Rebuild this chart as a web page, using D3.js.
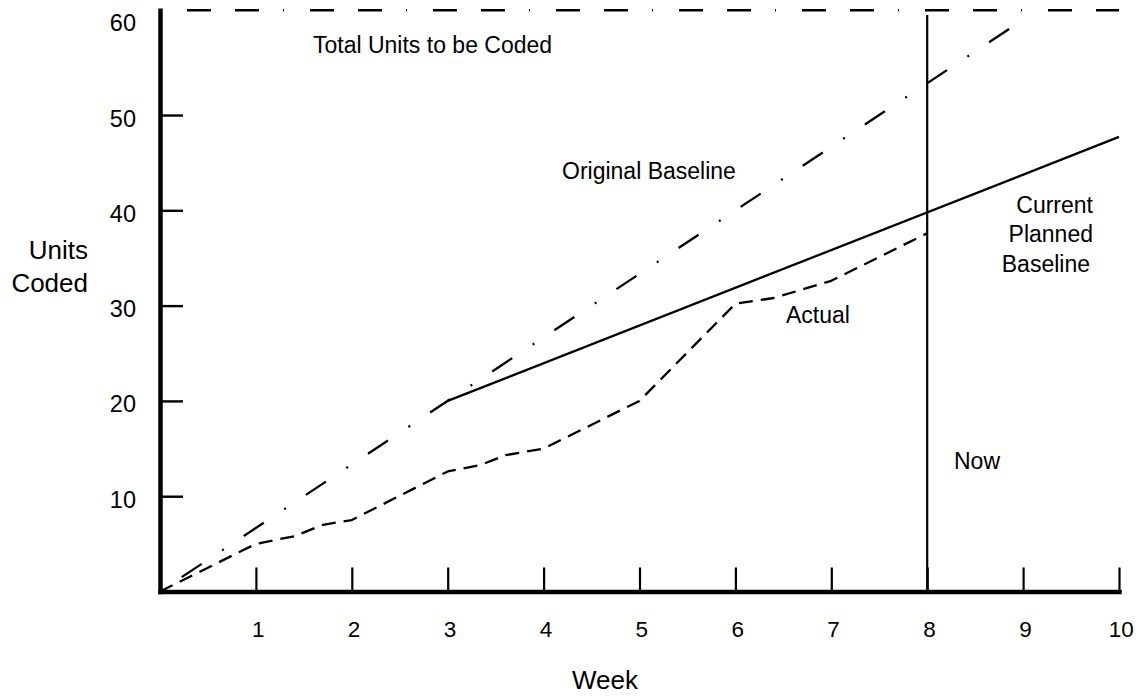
<!DOCTYPE html>
<html>
<head>
<meta charset="utf-8">
<script src="https://cdn.jsdelivr.net/npm/d3@7"></script>
<style>
  html, body { margin: 0; padding: 0; background: #fff; }
  svg { display: block; font-family: "Liberation Sans", Arial, Helvetica, sans-serif; }
</style>
</head>
<body>
<svg id="chart" width="1144" height="696"></svg>
<script>
// ---- data ----
const weekTicks = [1, 2, 3, 4, 5, 6, 7, 8, 9, 10];
const unitTicks = [10, 20, 30, 40, 50, 60];
const totalUnits = 60;
const nowWeek = 8;
const originalWeeks = [0, 9];
const originalUnits = [0, 60];
const plannedWeeks = [3, 10];
const plannedUnits = [20, 47.7];
const actualWeeks = [0, 1, 1.4, 1.7, 2, 3, 3.35, 3.6, 4, 5, 6, 6.4, 7, 8];
const actualUnits = [0, 5, 5.8, 7, 7.5, 12.6, 13.3, 14.3, 15, 20, 30.2, 30.8, 32.6, 37.6];

// ---- layout ----
const svg = d3.select("#chart");
const x = d3.scaleLinear().domain([0, 10]).range([160, 1119]);
const y = d3.scaleLinear().domain([0, 61]).range([591.5, 10.2]);
const ink = "#000";

// x axis
const gx = svg.append("g").attr("transform", `translate(0,${y(0)})`)
  .call(d3.axisBottom(x).tickValues(weekTicks).tickSizeInner(-24).tickSizeOuter(0).tickPadding(29.5));
gx.select(".domain").attr("stroke", ink).attr("stroke-width", 4.5).attr("stroke-linecap", "square");
gx.selectAll(".tick line").attr("stroke", ink).attr("stroke-width", 2.2);
gx.selectAll(".tick text").attr("font-size", 22.5).attr("fill", ink)
  .attr("font-family", "Liberation Sans, Arial, sans-serif").attr("dx", "0.08em");

// y axis
const gy = svg.append("g").attr("transform", `translate(${x(0)},0)`)
  .call(d3.axisLeft(y).tickValues(unitTicks).tickSizeInner(-23).tickSizeOuter(0).tickPadding(24));
gy.select(".domain").attr("stroke", ink).attr("stroke-width", 4.5).attr("stroke-linecap", "square");
gy.selectAll(".tick line").attr("stroke", ink).attr("stroke-width", 2.4);
gy.selectAll(".tick").filter(d => d === totalUnits).select("line").remove();
gy.selectAll(".tick text").attr("font-size", 23.5).attr("fill", ink)
  .attr("font-family", "Liberation Sans, Arial, sans-serif").attr("dy", "0.47em");

// Total units line (top of the plot)
const topY = y(y.domain()[1]);
svg.append("line")
  .attr("x1", x(0)).attr("x2", x(10))
  .attr("y1", topY).attr("y2", topY)
  .attr("stroke", ink).attr("stroke-width", 2.6)
  .attr("stroke-dasharray", "1,26,24,24,24,24");

// Now line
svg.append("line")
  .attr("x1", x(nowWeek)).attr("x2", x(nowWeek))
  .attr("y1", y(60.5)).attr("y2", y(0))
  .attr("stroke", ink).attr("stroke-width", 2.2);

const line = d3.line().x(d => x(d[0])).y(d => y(d[1]));

// Original baseline
svg.append("path")
  .attr("d", line(d3.zip(originalWeeks, originalUnits)))
  .attr("fill", "none").attr("stroke", ink).attr("stroke-width", 2.3)
  .attr("stroke-dasharray", "2,24,24,24.5");

// Current planned baseline
svg.append("path")
  .attr("d", line(d3.zip(plannedWeeks, plannedUnits)))
  .attr("fill", "none").attr("stroke", ink).attr("stroke-width", 2.3);

// Actual
svg.append("path")
  .attr("d", line(d3.zip(actualWeeks, actualUnits)))
  .attr("fill", "none").attr("stroke", ink).attr("stroke-width", 2.3)
  .attr("stroke-linejoin", "round")
  .attr("stroke-dasharray", "14,8");

// ---- text ----
function txt(str, px, py, size, anchor) {
  svg.append("text").attr("x", px).attr("y", py)
    .attr("font-size", size).attr("text-anchor", anchor || "start")
    .attr("fill", ink).text(str);
}
txt("Total Units to be Coded", 313, 53, 23);
txt("Original Baseline", 562, 179, 23);
txt("Actual", 786, 322.5, 23);
txt("Now", 954, 469, 23);
txt("Current", 1093, 212.5, 23, "end");
txt("Planned", 1093, 242, 23, "end");
txt("Baseline", 1090, 272, 23, "end");
txt("Units", 88, 259, 26, "end");
txt("Coded", 88, 292, 26, "end");
txt("Week", 605, 689, 26, "middle");
</script>
</body>
</html>
